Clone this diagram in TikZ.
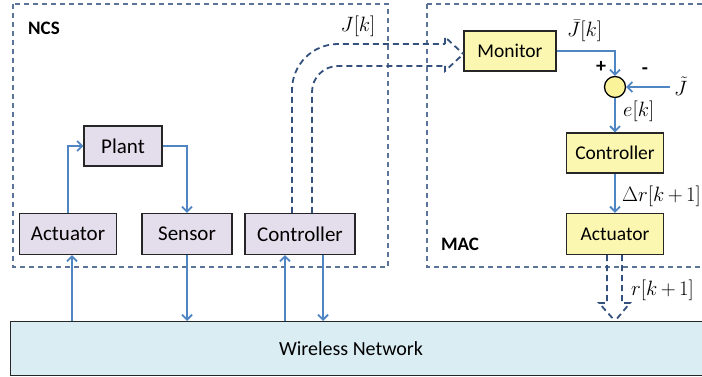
\documentclass[tikz,border=0pt]{standalone}
\usepackage{fontspec}
\setmainfont{Carlito}
\usetikzlibrary{arrows.meta,calc}
\definecolor{flowblue}{HTML}{5085C4}
\definecolor{zoneline}{HTML}{5C7398}
\definecolor{fatline}{HTML}{34507C}
\definecolor{ncsfill}{HTML}{E4DEEC}
\definecolor{macfill}{HTML}{FBF7B0}
\definecolor{sumfill}{HTML}{FAF39A}
\definecolor{netfill}{HTML}{DAEDF3}
\tikzset{
  blk/.style={draw=black!85, line width=1.4pt, inner sep=0pt, minimum height=41pt},
  ncsblk/.style={blk, fill=ncsfill, font=\fontsize{21}{24}\selectfont},
  macblk/.style={blk, fill=macfill, font=\fontsize{19.5}{23}\selectfont},
  zone/.style={draw=zoneline, line width=1.2pt, dash pattern=on 5pt off 4pt},
  flow/.style={draw=flowblue, line width=1.8pt, -{Straight Barb[length=5pt,width=10pt]}},
  fat/.style={draw=fatline, line width=1.8pt, dash pattern=on 6pt off 4pt},
  lbl/.style={font=\fontsize{20}{23}\selectfont, inner sep=0pt},
  mlbl/.style={font=\fontsize{20.5}{24}\selectfont, inner sep=0pt}
}
\begin{document}
\begin{tikzpicture}[x=1pt,y=-1pt]
\useasboundingbox (0,0) rectangle (702,377);

% dashed zones
\draw[zone] (13,4) rectangle (388,267);
\draw[zone] (427,4) -- (710,4);
\draw[zone] (427,4) -- (427,267) -- (710,267);
\node[font=\fontsize{19}{22}\selectfont\bfseries, inner sep=0pt] (ncslbl) at (44,28) {NCS};
\node[font=\fontsize{19}{22}\selectfont\bfseries, inner sep=0pt] (maclbl) at (460,244) {MAC};

% network
\node[draw=black!85, line width=1.4pt, fill=netfill, minimum width=700pt, minimum height=54pt, inner sep=0pt, anchor=north west] (net) at (10,321) {};
\node[lbl] (nettxt) at (351,349) {Wireless Network};

% NCS blocks
\node[ncsblk, minimum width=78pt, minimum height=40pt] (plant) at (123,146) {Plant};
\node[ncsblk, minimum width=97pt] (nact) at (68,234) {Actuator};
\node[ncsblk, minimum width=90pt] (sensor) at (187,234) {Sensor};
\node[ncsblk, minimum width=110pt] (nctrl) at (300,234) {Controller};

% MAC blocks
\node[macblk, minimum width=92pt, minimum height=40pt] (mon) at (510,51) {Monitor};
\node[circle, draw=black, line width=1.3pt, fill=sumfill, minimum size=21pt, inner sep=0pt] (sum) at (615,87) {};
\node[macblk, minimum width=97pt, minimum height=40pt] (mctrl) at (615,153) {Controller};
\node[macblk, minimum width=97pt] (mact) at (615,234) {Actuator};

% plant loop
\draw[flow] (nact.north) |- (plant.west);
\draw[flow] (plant.east) -| (sensor.north);

% links with the network
\draw[flow] ([xshift=4pt]nact.south |- net.north) -- ([xshift=4pt]nact.south);
\draw[flow] (sensor.south) -- (sensor.south |- net.north);
\draw[flow] ([xshift=-15pt]nctrl.south |- net.north) -- ([xshift=-15pt]nctrl.south);
\draw[flow] ([xshift=23pt]nctrl.south) -- ([xshift=23pt]nctrl.south |- net.north);

% MAC loop
\coordinate (jref) at (670,87);
\draw[flow] (mon.east) -| (sum.north);
\draw[flow] (jref) -- (sum.east);
\draw[flow] (sum.south) -- (mctrl.north);
\draw[flow] (mctrl.south) -- (mact.north);

% J[k] report: wide dashed arrow from the controller to the monitor
\coordinate (jtip) at ([yshift=-3pt]mon.west);
\draw[fat, rounded corners=46pt] ([xshift=-8pt]nctrl.north) -- (292,44) -- (445,44);
\draw[fat, rounded corners=26pt] ([xshift=12pt]nctrl.north) -- (312,66) -- (445,66);
\draw[fat] (445,44) -- (445,37) -- (jtip);
\draw[fat] (445,66) -- (445,71) -- (jtip);

% r[k+1] command: wide dashed arrow into the network
\coordinate (rtip) at (mact.south |- net.north);
\draw[fat] ([xshift=-8pt]mact.south) -- ([xshift=-8pt]mact.south |- 0,303) -- ([xshift=-16pt]mact.south |- 0,303) -- (rtip);
\draw[fat] ([xshift=7pt]mact.south) -- ([xshift=7pt]mact.south |- 0,303) -- ([xshift=15pt]mact.south |- 0,303) -- (rtip);

% signal labels
\node[mlbl] (jk) at (358,26) {$J[k]$};
\node[mlbl, anchor=west] (jbar) at (567,31) {$\bar{J}[k]$};
\node[lbl, font=\fontsize{20}{23}\selectfont\bfseries] (plus) at (601,67) {+};
\node[lbl, font=\fontsize{20}{23}\selectfont\bfseries] (minus) at (645,71) {-};
\node[mlbl, anchor=west] (jtil) at (674,86) {$\tilde{J}$};
\node[mlbl, anchor=west] (ek) at (623,111) {$e[k]$};
\node[mlbl, anchor=west] (dr) at (622,196) {$\medmuskip=3mu \Delta r[k+1]$};
\node[mlbl, anchor=west] (rk) at (631,290) {$\medmuskip=3mu r[k+1]$};
\end{tikzpicture}
\end{document}
